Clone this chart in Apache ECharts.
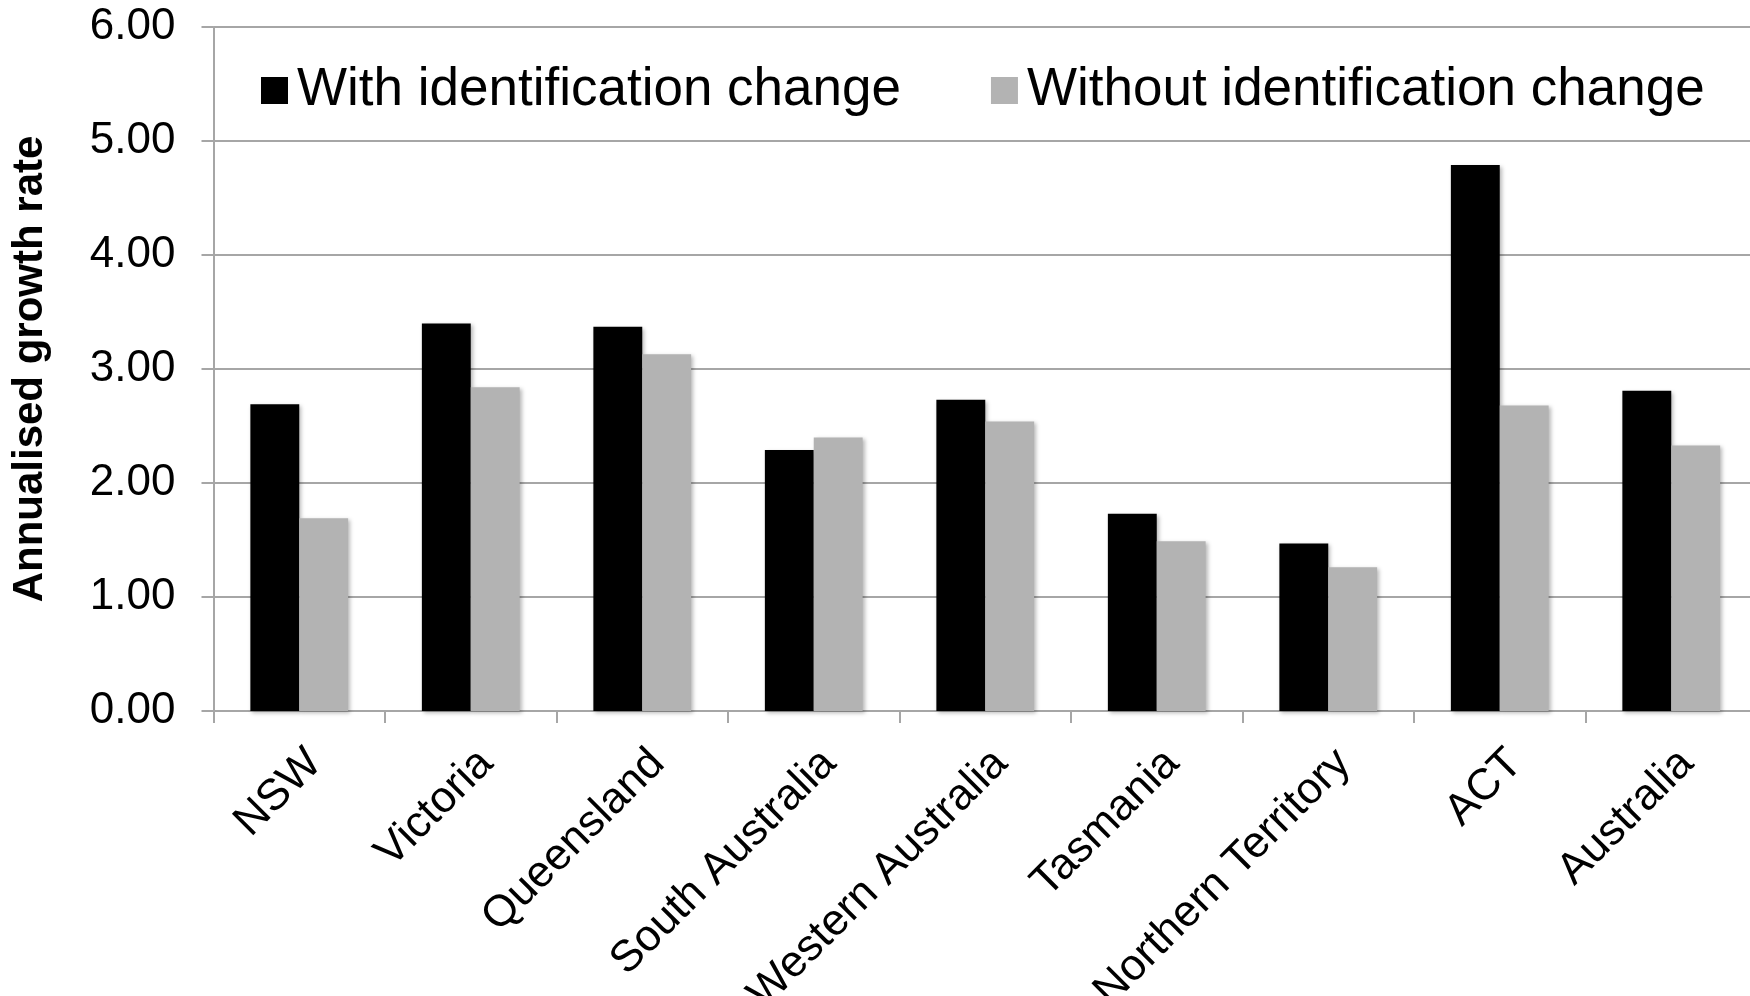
<!DOCTYPE html>
<html>
<head>
<meta charset="utf-8">
<title>Annualised growth rate by state</title>
<script src="https://cdn.jsdelivr.net/npm/echarts@6/dist/echarts.min.js"></script>
<style>
  html, body { margin: 0; padding: 0; background: #ffffff; }
  #chart { width: 1750px; height: 996px; }
</style>
</head>
<body>
<div id="chart"></div>
<script>
// Regions along the category axis
const regions = ['NSW', 'Victoria', 'Queensland', 'South Australia', 'Western Australia',
                 'Tasmania', 'Northern Territory', 'ACT', 'Australia'];

// Annualised growth rates (%)
const withChange    = [2.69, 3.40, 3.37, 2.29, 2.73, 1.73, 1.47, 4.79, 2.81];
const withoutChange = [1.69, 2.84, 3.13, 2.40, 2.54, 1.49, 1.26, 2.68, 2.33];

const seriesNames = ['With identification change', 'Without identification change'];

// Value axis ticks
const yMin = 0, yMax = 6, yStep = 1;

const FONT = '"Liberation Sans", Arial, Helvetica, sans-serif';
const GRID_GREY = '#a6a6a6';

const barShadow = {
  shadowColor: 'rgba(0,0,0,0.28)',
  shadowBlur: 4,
  shadowOffsetX: 2,
  shadowOffsetY: 2
};

const chart = echarts.init(document.getElementById('chart'), null, { renderer: 'canvas' });

chart.setOption({
  animation: false,
  backgroundColor: '#ffffff',
  textStyle: { fontFamily: FONT, color: '#000' },
  grid: {
    left: 213.5, top: 27, width: 1543.5, bottom: 285,
    containLabel: false,
    outerBoundsMode: 'none'
  },
  legend: {
    data: seriesNames,
    left: 256,
    top: 59,
    itemWidth: 27,
    itemHeight: 27,
    itemGap: 90,
    icon: 'rect',
    textStyle: { fontFamily: FONT, fontSize: 53, color: '#000', padding: [0, 0, 0, 4] }
  },
  xAxis: {
    type: 'category',
    data: regions,
    axisLine: { lineStyle: { color: GRID_GREY, width: 2 } },
    axisTick: { show: true, length: 12, lineStyle: { color: GRID_GREY, width: 2 } },
    axisLabel: {
      interval: 0,
      rotate: 45,
      margin: 30,
      align: 'right',
      verticalAlign: 'top',
      fontFamily: FONT,
      fontSize: 44,
      color: '#000'
    },
    splitLine: { show: false }
  },
  yAxis: {
    type: 'value',
    min: yMin,
    max: yMax,
    interval: yStep,
    name: 'Annualised growth rate',
    nameLocation: 'middle',
    nameRotate: 90,
    nameGap: 162,
    nameTextStyle: { fontFamily: FONT, fontSize: 42, fontWeight: 'bold', color: '#000' },
    axisLine: { show: true, lineStyle: { color: GRID_GREY, width: 2 } },
    axisTick: { show: true, length: 12, lineStyle: { color: GRID_GREY, width: 2 } },
    axisLabel: {
      margin: 38,
      fontFamily: FONT,
      fontSize: 44,
      color: '#000',
      formatter: v => v.toFixed(2)
    },
    splitLine: { show: true, lineStyle: { color: GRID_GREY, width: 2 } }
  },
  series: [
    {
      name: seriesNames[0],
      type: 'bar',
      data: withChange,
      barGap: '0%',
      barCategoryGap: '43%',
      itemStyle: Object.assign({ color: '#000000' }, barShadow)
    },
    {
      name: seriesNames[1],
      type: 'bar',
      data: withoutChange,
      barGap: '0%',
      barCategoryGap: '43%',
      itemStyle: Object.assign({ color: '#b3b3b3' }, barShadow)
    }
  ]
});
</script>
</body>
</html>
